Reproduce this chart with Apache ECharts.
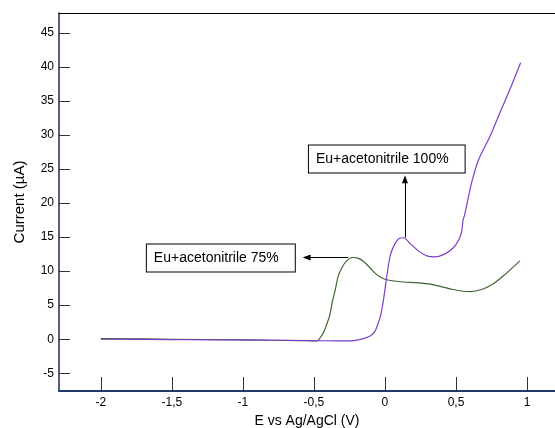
<!DOCTYPE html>
<html>
<head>
<meta charset="utf-8">
<script src="https://cdn.jsdelivr.net/npm/echarts@6/dist/echarts.min.js"></script>
<style>
  html, body { margin: 0; padding: 0; background: #fff; }
  #main { width: 555px; height: 428px; }
</style>
</head>
<body>
<div id="main"></div>
<script>
// E vs Ag/AgCl (V), current in µA
var acn100 = [
  [-2.0, 0.0], [-1.5, -0.05], [-1.0, -0.1], [-0.5, -0.2], [-0.3, -0.25], [-0.22, -0.2],
  [-0.15, 0.1], [-0.1, 0.5], [-0.07, 1.2], [-0.05, 2.2], [-0.03, 3.5], [-0.01, 5.8],
  [0.0, 7.3], [0.02, 10.2], [0.04, 12.5], [0.07, 14.0], [0.1, 14.8], [0.13, 14.9],
  [0.18, 14.0], [0.24, 12.9], [0.3, 12.2], [0.35, 12.1], [0.42, 12.5], [0.48, 13.4],
  [0.52, 14.6], [0.54, 15.8], [0.55, 17.5], [0.56, 18.2], [0.575, 19.6], [0.61, 23.0],
  [0.66, 26.4], [0.74, 29.8], [0.81, 33.3], [0.88, 36.7], [0.955, 40.6]
];
var acn75 = [
  [-2.0, 0.1], [-1.5, 0.0], [-1.0, -0.1], [-0.6, -0.2], [-0.48, -0.25], [-0.45, 0.4],
  [-0.43, 1.1], [-0.41, 2.2], [-0.39, 3.4], [-0.37, 5.5], [-0.35, 7.2], [-0.33, 9.2],
  [-0.3, 10.6], [-0.27, 11.5], [-0.23, 12.0], [-0.19, 11.9], [-0.15, 11.4], [-0.11, 10.6],
  [-0.07, 9.7], [-0.03, 9.1], [0.02, 8.7], [0.13, 8.4], [0.22, 8.3], [0.32, 8.1],
  [0.4, 7.7], [0.48, 7.3], [0.55, 7.05], [0.6, 7.0], [0.68, 7.3], [0.76, 8.1],
  [0.85, 9.6], [0.95, 11.5]
];
var xTicks = [-2, -1.5, -1, -0.5, 0, 0.5, 1];
var yTicks = [-5, 0, 5, 10, 15, 20, 25, 30, 35, 40, 45];
var label100 = 'Eu+acetonitrile 100%';
var label75 = 'Eu+acetonitrile 75%';

var chart = echarts.init(document.getElementById('main'));

var boxLabel = {
  show: true,
  position: 'inside',
  color: '#000',
  fontFamily: 'Liberation Sans, Arial, sans-serif',
  fontSize: 14,
  backgroundColor: '#fff',
  borderColor: '#000',
  borderWidth: 1,
  padding: [7, 16, 6, 7]
};

chart.setOption({
  animation: false,
  backgroundColor: '#fff',
  grid: { left: 59, top: 13, right: 0, bottom: 37, outerBoundsMode: 'none' },
  xAxis: [{
    type: 'value',
    min: -2.294,
    max: 1.197,
    name: 'E vs Ag/AgCl (V)',
    nameLocation: 'middle',
    nameGap: 20,
    nameTextStyle: { color: '#000', fontSize: 14, fontFamily: 'Liberation Sans, Arial, sans-serif' },
    axisLine: { onZero: false, lineStyle: { color: '#1f3a68', width: 2 } },
    axisTick: { inside: true, length: 14, customValues: xTicks, lineStyle: { color: '#333', width: 1 } },
    axisLabel: {
      customValues: xTicks,
      color: '#000',
      fontSize: 12,
      margin: 6,
      fontFamily: 'Liberation Sans, Arial, sans-serif',
      formatter: function (v) { return String(v).replace('.', ','); }
    },
    splitLine: { show: false }
  }, {
    type: 'value',
    position: 'top',
    min: -2.294,
    max: 1.197,
    axisLine: { show: true, onZero: false, lineStyle: { color: '#000', width: 1 } },
    axisTick: { show: false },
    axisLabel: { show: false },
    splitLine: { show: false }
  }],
  yAxis: {
    type: 'value',
    min: -7.6,
    max: 47.9,
    name: 'Current (µA)',
    nameLocation: 'middle',
    nameGap: 32,
    nameTextStyle: { color: '#000', fontSize: 15, fontFamily: 'Liberation Sans, Arial, sans-serif' },
    axisLine: { show: true, onZero: false, lineStyle: { color: '#1a2a4a', width: 1.5 } },
    axisTick: { inside: true, length: 11, customValues: yTicks, lineStyle: { color: '#333', width: 1 } },
    axisLabel: {
      customValues: yTicks,
      color: '#000',
      fontSize: 12,
      margin: 5,
      fontFamily: 'Liberation Sans, Arial, sans-serif'
    },
    splitLine: { show: false }
  },
  series: [{
    name: label75,
    type: 'line',
    data: acn75,
    smooth: 0.3,
    showSymbol: false,
    lineStyle: { color: '#3d6630', width: 1.2 },
    markPoint: {
      symbol: 'rect',
      symbolSize: 1,
      itemStyle: { color: 'rgba(0,0,0,0)' },
      label: boxLabel,
      data: [{ coord: [-1.155, 11.93], value: label75, label: { formatter: label75 } }]
    },
    markLine: {
      silent: true,
      symbol: ['none', 'triangle'],
      symbolSize: [6, 8],
      label: { show: false },
      lineStyle: { color: '#000', width: 1, type: 'solid' },
      data: [[{ coord: [-0.258, 11.99] }, { coord: [-0.551, 11.99] }]]
    }
  }, {
    name: label100,
    type: 'line',
    data: acn100,
    smooth: 0.3,
    showSymbol: false,
    lineStyle: { color: '#7b3fc6', width: 1.2 },
    markPoint: {
      symbol: 'rect',
      symbolSize: 1,
      itemStyle: { color: 'rgba(0,0,0,0)' },
      label: boxLabel,
      data: [{ coord: [0.013, 26.46], value: label100, label: { formatter: label100 } }]
    },
    markLine: {
      silent: true,
      symbol: ['none', 'triangle'],
      symbolSize: [6, 8],
      label: { show: false },
      lineStyle: { color: '#000', width: 1, type: 'solid' },
      data: [[{ coord: [0.141, 14.93] }, { coord: [0.141, 23.48] }]]
    }
  }]
});
</script>
</body>
</html>
